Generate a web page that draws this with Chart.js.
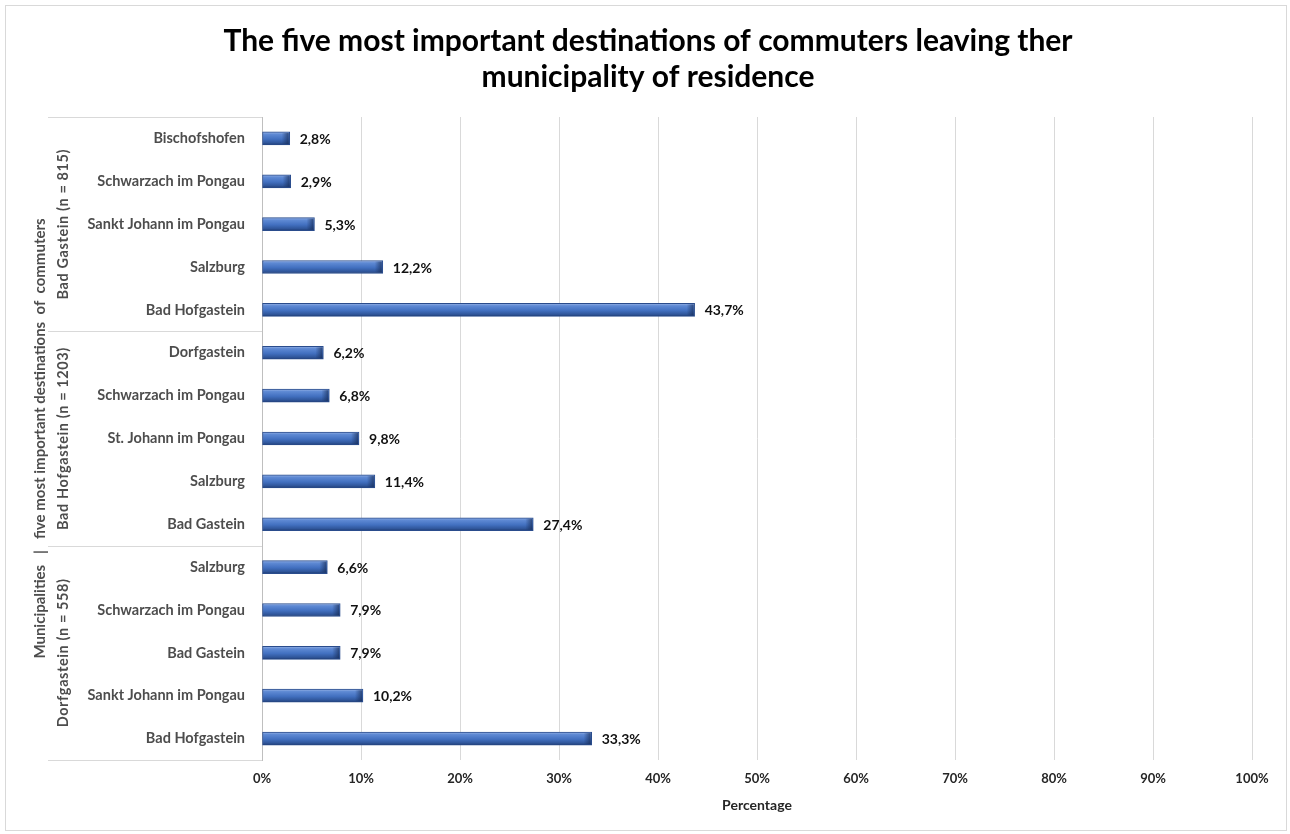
<!DOCTYPE html>
<html>
<head>
<meta charset="utf-8">
<title>Commuter destinations</title>
<script src="https://cdn.jsdelivr.net/npm/chart.js@4/dist/chart.umd.min.js"></script>
<style>
  html, body { margin: 0; padding: 0; background: #fff; }
  #wrap { width: 1290px; height: 834px; }
</style>
</head>
<body>
<div id="wrap"><canvas id="myChart"></canvas></div>
<script>
// data
var groupLabels = ["Bad Gastein (n = 815)", "Bad Hofgastein (n = 1203)", "Dorfgastein (n = 558)"];
var groupSizes = [5, 5, 5];
var destinations = [
    "Bischofshofen", "Schwarzach im Pongau", "Sankt Johann im Pongau", "Salzburg", "Bad Hofgastein",
    "Dorfgastein", "Schwarzach im Pongau", "St. Johann im Pongau", "Salzburg", "Bad Gastein",
    "Salzburg", "Schwarzach im Pongau", "Bad Gastein", "Sankt Johann im Pongau", "Bad Hofgastein"
];
var shares = [2.8, 2.9, 5.3, 12.2, 43.7, 6.2, 6.8, 9.8, 11.4, 27.4, 6.6, 7.9, 7.9, 10.2, 33.3];
var xTicks = [0, 10, 20, 30, 40, 50, 60, 70, 80, 90, 100];

var titleLines = ["The five most important destinations of commuters leaving ther", "municipality of residence"];
var yTitle = "Municipalities   |   five most important destinations  of  commuters";
var xTitle = "Percentage";

var FONT = "Lato";
var BAR_H = 13;

function fmt(v) {
    return v.toFixed(1).replace('.', ',') + '%';
}

// bevelled blue bars like the excel chart
function barFill(context) {
    var chart = context.chart;
    var y = chart.scales.y;
    if (!y || context.dataIndex === undefined) return '#4472c4';
    var cy = y.getPixelForValue(context.dataIndex);
    if (!isFinite(cy)) return '#4472c4';
    var g = chart.ctx.createLinearGradient(0, cy - BAR_H / 2, 0, cy + BAR_H / 2);
    g.addColorStop(0, '#9ab5e6');
    g.addColorStop(0.18, '#5f8ad4');
    g.addColorStop(0.55, '#4270c0');
    g.addColorStop(0.85, '#2f5599');
    g.addColorStop(1, '#1e3a70');
    return g;
}

var background = {
    id: 'background',
    beforeDraw: function(chart) {
        var ctx = chart.ctx;
        ctx.save();
        ctx.fillStyle = '#fff';
        ctx.fillRect(0, 0, chart.width, chart.height);
        ctx.strokeStyle = '#d9d9d9';
        ctx.lineWidth = 1;
        ctx.strokeRect(5.5, 5.5, chart.width - 9, chart.height - 9);
        // title, centred on the whole chart box
        ctx.fillStyle = '#000';
        ctx.font = 'bold 30px ' + FONT;
        ctx.textAlign = 'center';
        ctx.textBaseline = 'middle';
        ctx.fillText(titleLines[0], 648, 41);
        ctx.fillText(titleLines[1], 648, 77);
        ctx.restore();
    }
};

var valueLabels = {
    id: 'valueLabels',
    afterDatasetsDraw: function(chart) {
        var ctx = chart.ctx;
        var meta = chart.getDatasetMeta(0);
        ctx.save();
        // dark bevel at the bar ends
        meta.data.forEach(function(bar) {
            var g = ctx.createLinearGradient(bar.x - 8, 0, bar.x, 0);
            g.addColorStop(0, 'rgba(20,40,80,0)');
            g.addColorStop(1, 'rgba(20,40,80,0.75)');
            ctx.fillStyle = g;
            ctx.fillRect(bar.x - 8, bar.y - BAR_H / 2 + 1, 7, BAR_H - 2);
        });
        ctx.font = 'bold 14px ' + FONT;
        ctx.fillStyle = '#111';
        ctx.textAlign = 'left';
        ctx.textBaseline = 'middle';
        meta.data.forEach(function(bar, i) {
            ctx.fillText(fmt(shares[i]), bar.x + 10, bar.y + 1);
        });
        ctx.restore();
    }
};

var groupAxis = {
    id: 'groupAxis',
    afterDraw: function(chart) {
        var ctx = chart.ctx;
        var area = chart.chartArea;
        var y = chart.scales.y;
        var left = 48;
        ctx.save();
        ctx.strokeStyle = '#d9d9d9';
        ctx.lineWidth = 1;

        var bounds = [area.top];
        var idx = 0;
        groupSizes.forEach(function(n) {
            idx += n;
            if (idx >= destinations.length) {
                bounds.push(area.bottom);
            } else {
                bounds.push((y.getPixelForValue(idx - 1) + y.getPixelForValue(idx)) / 2);
            }
        });
        bounds.forEach(function(b) {
            var yy = Math.round(b) + 0.5;
            ctx.beginPath();
            ctx.moveTo(left, yy);
            ctx.lineTo(area.left, yy);
            ctx.stroke();
        });

        ctx.fillStyle = '#4d4d4d';
        ctx.textAlign = 'center';
        ctx.textBaseline = 'middle';
        ctx.font = 'bold 14.5px ' + FONT;
        ctx.letterSpacing = '0.6px';
        groupLabels.forEach(function(lbl, i) {
            var cy = (bounds[i] + bounds[i + 1]) / 2;
            ctx.save();
            ctx.translate(63, cy);
            ctx.rotate(-Math.PI / 2);
            ctx.fillText(lbl, 0, 0);
            ctx.restore();
        });
        ctx.letterSpacing = '0px';

        ctx.font = 'bold 15px ' + FONT;
        ctx.save();
        ctx.translate(40, (area.top + area.bottom) / 2);
        ctx.rotate(-Math.PI / 2);
        ctx.fillText(yTitle, 0, 0);
        ctx.restore();

        ctx.restore();
    }
};

var ctx = document.getElementById('myChart');
var myChart = new Chart(ctx, {
    type: 'bar',
    data: {
        labels: destinations,
        datasets: [{
            label: 'Share',
            data: shares,
            backgroundColor: barFill,
            borderColor: '#2a4c8c',
            borderWidth: 1,
            borderSkipped: false,
            barThickness: BAR_H
        }]
    },
    options: {
        indexAxis: 'y',
        responsive: true,
        maintainAspectRatio: false,
        animation: false,
        layout: { padding: { left: 0, right: 38, top: 117, bottom: 0 } },
        plugins: {
            legend: { display: false },
            tooltip: { enabled: false },
            title: { display: false }
        },
        scales: {
            x: {
                min: 0,
                max: 100,
                afterBuildTicks: function(scale) {
                    scale.ticks = xTicks.map(function(v) { return { value: v }; });
                },
                afterFit: function(scale) { scale.height = 74; },
                grid: { color: '#d9d9d9', drawTicks: false },
                border: { display: false },
                ticks: {
                    padding: 11,
                    color: '#262626',
                    font: { family: FONT, size: 13, weight: 'bold' },
                    callback: function(v) { return v + '%'; }
                },
                title: {
                    display: true,
                    text: xTitle,
                    color: '#262626',
                    font: { family: FONT, size: 14, weight: 'bold' },
                    padding: { top: 4, bottom: 20 }
                }
            },
            y: {
                afterFit: function(scale) { scale.width = 262; },
                grid: { display: false, drawTicks: false },
                border: { display: true, color: '#bfbfbf' },
                ticks: {
                    autoSkip: false,
                    padding: 17,
                    color: '#4d4d4d',
                    font: { family: FONT, size: 14.5, weight: 'bold' }
                }
            }
        }
    },
    plugins: [background, valueLabels, groupAxis]
});
</script>
</body>
</html>
